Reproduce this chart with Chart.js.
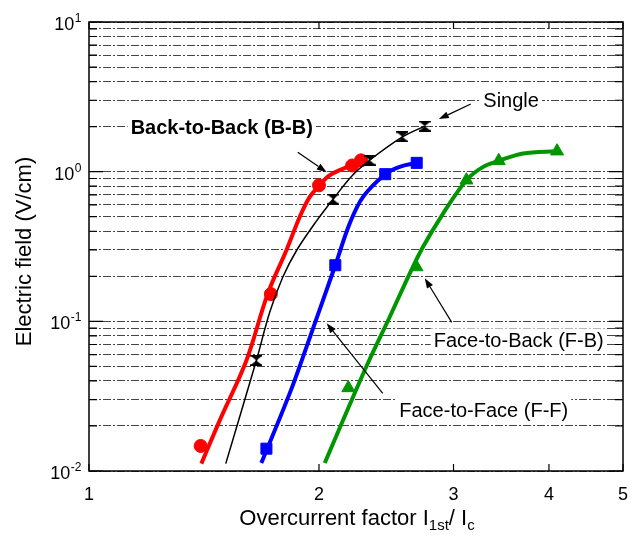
<!DOCTYPE html>
<html>
<head>
<meta charset="utf-8">
<script src="https://cdn.jsdelivr.net/npm/chart.js@4.4.1/dist/chart.umd.min.js"></script>
<style>
  body { margin: 0; background: #fff; }
  #wrap { width: 638px; height: 537px; }
</style>
</head>
<body>
<div id="wrap"><canvas id="chart" width="638" height="537"></canvas></div>
<script>
// axis ticks
const xTickValues = [1, 2, 3, 4, 5];
const xTickLabels = ['1', '2', '3', '4', '5'];
const yMajorValues = [0.01, 0.1, 1, 10];
const yExponents = ['-2', '-1', '0', '1'];
const yGridValues = [
    0.01, 0.02, 0.03, 0.04, 0.05, 0.06, 0.07, 0.08, 0.09,
    0.1, 0.2, 0.3, 0.4, 0.5, 0.6, 0.7, 0.8, 0.9,
    1, 2, 3, 4, 5, 6, 7, 8, 9, 10
];

// Back-to-Back (B-B)
const bbX = [1.40, 1.73, 2.00, 2.21, 2.27];
const bbY = [0.0147, 0.152, 0.81, 1.10, 1.19];
const bbFitX = [1.403, 1.483, 1.607, 1.713, 1.813, 1.887, 1.945, 2.004, 2.066, 2.206, 2.273];
const bbFitY = [0.0112, 0.0218, 0.0548, 0.152, 0.2985, 0.498, 0.678, 0.812, 0.947, 1.105, 1.194];

// Single
const singleX = [1.656, 2.087, 2.330, 2.572, 2.751];
const singleY = [0.0548, 0.655, 1.194, 1.709, 2.016];
const singleFitX = [1.510, 1.656, 1.724, 1.793, 1.870, 1.980, 2.087, 2.207, 2.330, 2.572, 2.751];
const singleFitY = [0.0112, 0.0548, 0.115, 0.197, 0.2985, 0.46, 0.655, 0.933, 1.194, 1.709, 2.016];

// Face-to-Face (F-F)
const ffX = [1.707, 2.101, 2.442, 2.685];
const ffY = [0.0141, 0.237, 0.962, 1.145];
const ffFitX = [1.681, 1.831, 1.926, 2.024, 2.101, 2.194, 2.284, 2.442, 2.551, 2.685];
const ffFitY = [0.0113, 0.033, 0.0673, 0.1382, 0.237, 0.450, 0.678, 0.962, 1.077, 1.145];

// Face-to-Back (F-B)
const fbX = [2.185, 2.683, 3.119, 3.438, 4.099];
const fbY = [0.0359, 0.2307, 0.877, 1.181, 1.371];
const fbFitX = [2.035, 2.216, 2.316, 2.475, 2.629, 2.736, 2.907, 3.119, 3.280, 3.438, 3.699, 4.099];
const fbFitY = [0.0113, 0.0312, 0.0521, 0.1069, 0.2085, 0.314, 0.525, 0.877, 1.077, 1.181, 1.323, 1.371];

// annotations: label text, label position, arrow start, arrow end (data units)
const labels = [
    { text: 'Back-to-Back (B-B)', bold: true, at: [1.492, 1.985], from: [1.876, 1.35], to: [2.047, 0.99] },
    { text: 'Single', bold: false, at: [3.569, 3.008], from: [3.160, 2.83], to: [2.870, 2.245] },
    { text: 'Face-to-Back (F-B)', bold: false, at: [3.651, 0.0746], from: [2.984, 0.0985], to: [2.751, 0.194] },
    { text: 'Face-to-Face (F-F)', bold: false, at: [3.286, 0.0254], from: [2.424, 0.033], to: [2.047, 0.097] }
];

const FONT = '"Liberation Sans", Arial, Helvetica, sans-serif';

function pts(xs, ys) {
    return xs.map((x, i) => ({ x: x, y: ys[i] }));
}

// hourglass marker for the Single data
function hourglass() {
    const c = document.createElement('canvas');
    c.width = 12; c.height = 11;
    const g = c.getContext('2d');
    g.fillStyle = '#000';
    g.fillRect(0, 0, 12, 1.6);
    g.fillRect(0, 9.4, 12, 1.6);
    g.beginPath();
    g.moveTo(0.5, 1); g.lineTo(11.5, 1); g.lineTo(6, 5.5); g.closePath();
    g.moveTo(0.5, 10); g.lineTo(11.5, 10); g.lineTo(6, 5.5); g.closePath();
    g.fill();
    return c;
}

function fitLine(xs, ys, color, width) {
    return {
        data: pts(xs, ys),
        borderColor: color,
        borderWidth: width,
        pointRadius: 0,
        tension: 0.35,
        fill: false
    };
}

function markers(xs, ys, color, style, radius) {
    return {
        data: pts(xs, ys),
        showLine: false,
        pointStyle: style,
        pointRadius: radius,
        pointBackgroundColor: color,
        pointBorderColor: color,
        pointBorderWidth: 1
    };
}

function arrow(ctx, x1, y1, x2, y2) {
    const ang = Math.atan2(y2 - y1, x2 - x1);
    const len = 10, half = 3.5;
    const bx = x2 - len * Math.cos(ang), by = y2 - len * Math.sin(ang);
    ctx.beginPath();
    ctx.moveTo(x1, y1);
    ctx.lineTo(bx, by);
    ctx.stroke();
    ctx.beginPath();
    ctx.moveTo(x2, y2);
    ctx.lineTo(bx + half * Math.sin(ang), by - half * Math.cos(ang));
    ctx.lineTo(bx - half * Math.sin(ang), by + half * Math.cos(ang));
    ctx.closePath();
    ctx.fill();
}

const decorations = {
    id: 'decorations',
    afterDraw(chart) {
        const { ctx, chartArea: a, scales: { x, y } } = chart;
        ctx.save();
        ctx.strokeStyle = '#000';
        ctx.fillStyle = '#000';

        // frame and inward ticks
        ctx.lineWidth = 1.5;
        ctx.strokeRect(a.left, a.top, a.right - a.left, a.bottom - a.top);
        ctx.lineWidth = 1.2;
        ctx.beginPath();
        yGridValues.forEach(v => {
            const py = y.getPixelForValue(v);
            const len = yMajorValues.includes(v) ? 14 : 8;
            ctx.moveTo(a.left, py); ctx.lineTo(a.left + len, py);
            ctx.moveTo(a.right - len, py); ctx.lineTo(a.right, py);
        });
        xTickValues.forEach(v => {
            const px = x.getPixelForValue(v);
            ctx.moveTo(px, a.bottom); ctx.lineTo(px, a.bottom - 7);
            ctx.moveTo(px, a.top); ctx.lineTo(px, a.top + 7);
        });
        ctx.stroke();

        // x tick labels
        ctx.font = '18px ' + FONT;
        ctx.textAlign = 'center';
        ctx.textBaseline = 'alphabetic';
        xTickValues.forEach((v, i) => {
            ctx.fillText(xTickLabels[i], x.getPixelForValue(v), a.bottom + 29);
        });

        // y tick labels 10^n
        ctx.textAlign = 'left';
        yMajorValues.forEach((v, i) => {
            const py = y.getPixelForValue(v);
            ctx.font = '18px ' + FONT;
            const w1 = ctx.measureText('10').width;
            ctx.font = '12px ' + FONT;
            const w2 = ctx.measureText(yExponents[i]).width;
            const left = a.left - 8 - w1 - w2;
            ctx.font = '18px ' + FONT;
            ctx.fillText('10', left, py + 8);
            ctx.font = '12px ' + FONT;
            ctx.fillText(yExponents[i], left + w1 + 0.5, py);
        });

        // y title
        ctx.save();
        ctx.translate(25, (a.top + a.bottom) / 2 + 5);
        ctx.rotate(-Math.PI / 2);
        ctx.font = '22px ' + FONT;
        ctx.textAlign = 'center';
        ctx.textBaseline = 'middle';
        ctx.fillText('Electric field (V/cm)', 0, 0);
        ctx.restore();

        // x title with subscripts
        const parts = [['Overcurrent factor I', false], ['1st', true], ['/ I', false], ['c', true]];
        let total = 0;
        parts.forEach(p => {
            ctx.font = (p[1] ? '15px ' : '22px ') + FONT;
            total += ctx.measureText(p[0]).width;
        });
        let cx = 357 - total / 2;
        parts.forEach(p => {
            ctx.font = (p[1] ? '15px ' : '22px ') + FONT;
            ctx.fillText(p[0], cx, p[1] ? 530 : 525);
            cx += ctx.measureText(p[0]).width;
        });

        // annotations
        ctx.lineWidth = 1.2;
        labels.forEach(l => {
            const lx = x.getPixelForValue(l.at[0]);
            const ly = y.getPixelForValue(l.at[1]);
            ctx.font = (l.bold ? 'bold ' : '') + '20px ' + FONT;
            const w = ctx.measureText(l.text).width;
            ctx.fillStyle = '#fff';
            ctx.fillRect(lx - w / 2 - 3, ly - 12, w + 6, 24);
            ctx.fillStyle = '#000';
            ctx.textAlign = 'center';
            ctx.textBaseline = 'middle';
            ctx.fillText(l.text, lx, ly + 1);
            arrow(ctx,
                x.getPixelForValue(l.from[0]), y.getPixelForValue(l.from[1]),
                x.getPixelForValue(l.to[0]), y.getPixelForValue(l.to[1]));
        });
        ctx.restore();
    }
};

new Chart(document.getElementById('chart'), {
    type: 'line',
    data: {
        datasets: [
            fitLine(singleFitX, singleFitY, '#000', 1.5),
            fitLine(bbFitX, bbFitY, 'rgb(255,0,0)', 4),
            fitLine(ffFitX, ffFitY, 'rgb(0,0,255)', 4),
            fitLine(fbFitX, fbFitY, 'rgb(0,150,0)', 4),
            markers(singleX, singleY, '#000', hourglass(), 6),
            markers(bbX, bbY, 'rgb(255,0,0)', 'circle', 6.5),
            markers(ffX, ffY, 'rgb(0,0,255)', 'rect', 7.8),
            markers(fbX, fbY, 'rgb(0,150,0)', 'triangle', 7.5)
        ]
    },
    options: {
        responsive: false,
        animation: false,
        layout: { padding: { left: 89, right: 15, top: 22, bottom: 66 } },
        scales: {
            x: {
                type: 'logarithmic',
                min: 1,
                max: 5,
                afterBuildTicks: s => { s.ticks = xTickValues.map(v => ({ value: v })); },
                ticks: { display: false },
                grid: { display: false, drawTicks: false },
                border: { display: false }
            },
            y: {
                type: 'logarithmic',
                min: 0.01,
                max: 10,
                afterBuildTicks: s => { s.ticks = yGridValues.map(v => ({ value: v })); },
                ticks: { display: false },
                grid: { color: '#444', lineWidth: 1, drawTicks: false },
                border: { display: false, dash: [8, 2, 2, 2] }
            }
        },
        plugins: {
            legend: { display: false },
            tooltip: { enabled: false }
        }
    },
    plugins: [decorations]
});
</script>
</body>
</html>
